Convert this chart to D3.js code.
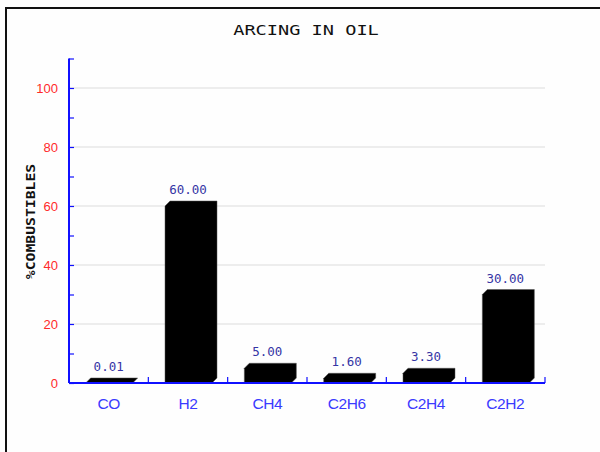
<!DOCTYPE html>
<html>
<head>
<meta charset="utf-8">
<script src="https://cdn.jsdelivr.net/npm/d3@7"></script>
<style>
  html, body { margin: 0; padding: 0; background: #ffffff; }
  svg { display: block; }
</style>
</head>
<body>
<script>
// Gas concentrations for an arcing fault in oil
const categories = ["CO", "H2", "CH4", "C2H6", "C2H4", "C2H2"];
const values = [0.01, 60.00, 5.00, 1.60, 3.30, 30.00];
const yMajorTicks = [0, 20, 40, 60, 80, 100];
const yAllTicks = [0, 10, 20, 30, 40, 50, 60, 70, 80, 90, 100, 110];
const chartTitle = "ARCING IN OIL";
const yTitle = "%COMBUSTIBLES";

const W = 600, H = 452;
const plot = { left: 69, right: 545, top: 58.5, bottom: 383 };
const depth = 5;       // offset of the back face of each bar
const faceWidth = 47;  // width of the front face

const svg = d3.select("body").append("svg")
  .attr("width", W).attr("height", H);

svg.append("rect").attr("width", W).attr("height", H).attr("fill", "#fefefe");

// outer frame (only the top and left edges fall inside the view)
svg.append("rect")
  .attr("x", 6).attr("y", 8)
  .attr("width", 620).attr("height", 480)
  .attr("fill", "none").attr("stroke", "#111").attr("stroke-width", 2);

const x = d3.scaleBand().domain(categories).range([plot.left, plot.right]).padding(0);
const y = d3.scaleLinear().domain([0, 110]).range([plot.bottom, plot.top]);

// horizontal gridlines at major ticks
svg.append("g").selectAll("line")
  .data(yMajorTicks.filter(d => d > 0))
  .join("line")
  .attr("x1", plot.left).attr("x2", plot.right)
  .attr("y1", d => y(d)).attr("y2", d => y(d))
  .attr("stroke", "#dcdcdc").attr("stroke-width", 1);

// bars: front face plus back face offset by depth, merged into one shape
svg.append("g").selectAll("path")
  .data(categories.map((c, i) => ({ c, v: values[i] })))
  .join("path")
  .attr("d", d => {
    const x0 = x(d.c) + (x.bandwidth() - faceWidth) / 2 + 0.5;
    const x1 = x0 + faceWidth;
    const yt = y(d.v), yb = y(0);
    return `M${x0},${yb} L${x0},${yt} L${x0 + depth},${yt - depth} L${x1 + depth},${yt - depth} ` +
           `L${x1 + depth},${yb - depth} L${x1},${yb} Z`;
  })
  .attr("fill", "#000")
  .attr("stroke", "#555").attr("stroke-width", 0.5);

// value labels above bars
svg.append("g").selectAll("text")
  .data(categories.map((c, i) => ({ c, v: values[i] })))
  .join("text")
  .attr("x", d => x(d.c) + x.bandwidth() / 2)
  .attr("y", d => y(d.v) - depth - 7)
  .attr("text-anchor", "middle")
  .attr("font-family", "'DejaVu Sans Mono', monospace")
  .attr("font-size", 12.5)
  .attr("fill", "#3535a5")
  .text(d => d.v.toFixed(2));

// y axis
const yAxisG = svg.append("g").attr("transform", `translate(${plot.left},0)`)
  .call(d3.axisRight(y).tickValues(yAllTicks).tickSize(5).tickFormat(""));
yAxisG.select(".domain").attr("stroke", "#1010ff").attr("stroke-width", 2)
  .attr("d", `M0,${plot.top}V${plot.bottom}`);
yAxisG.selectAll(".tick line").attr("stroke", "#1010ff").attr("stroke-width", 1.2);

// y tick labels
svg.append("g").selectAll("text")
  .data(yMajorTicks)
  .join("text")
  .attr("x", 58).attr("y", d => y(d) + 4.5)
  .attr("text-anchor", "end")
  .attr("font-family", "'Liberation Sans', Arial, sans-serif")
  .attr("font-size", 13)
  .attr("fill", "#ff2a2a")
  .text(d => d);

// x axis with ticks at band boundaries
const boundaries = categories.map(c => x(c)).concat([plot.right]);
const xAxisG = svg.append("g");
xAxisG.append("line")
  .attr("x1", plot.left).attr("x2", plot.right)
  .attr("y1", plot.bottom).attr("y2", plot.bottom)
  .attr("stroke", "#1010ff").attr("stroke-width", 2);
xAxisG.selectAll("line.tk")
  .data(boundaries)
  .join("line").attr("class", "tk")
  .attr("x1", d => d).attr("x2", d => d)
  .attr("y1", plot.bottom).attr("y2", plot.bottom - 6)
  .attr("stroke", "#1010ff").attr("stroke-width", 1.2);

// category labels
svg.append("g").selectAll("text")
  .data(categories)
  .join("text")
  .attr("x", d => x(d) + x.bandwidth() / 2)
  .attr("y", 408.5)
  .attr("text-anchor", "middle")
  .attr("font-family", "'Liberation Sans', Arial, sans-serif")
  .attr("font-size", 15.5)
  .attr("letter-spacing", -0.4)
  .attr("fill", "#3a3aff")
  .text(d => d);

// chart title, drawn with a wide monospace face
svg.append("text")
  .attr("transform", "translate(306,35) scale(1.38,1)")
  .attr("text-anchor", "middle")
  .attr("font-family", "'DejaVu Sans Mono', monospace")
  .attr("font-size", 13.5)
  .attr("fill", "#111")
  .text(chartTitle);

// y axis title
svg.append("text")
  .attr("transform", "translate(35,221.5) rotate(-90) scale(1.18,1)")
  .attr("text-anchor", "middle")
  .attr("font-family", "'DejaVu Sans Mono', monospace")
  .attr("font-weight", "bold")
  .attr("font-size", 12.5)
  .attr("fill", "#111")
  .text(yTitle);
</script>
</body>
</html>
